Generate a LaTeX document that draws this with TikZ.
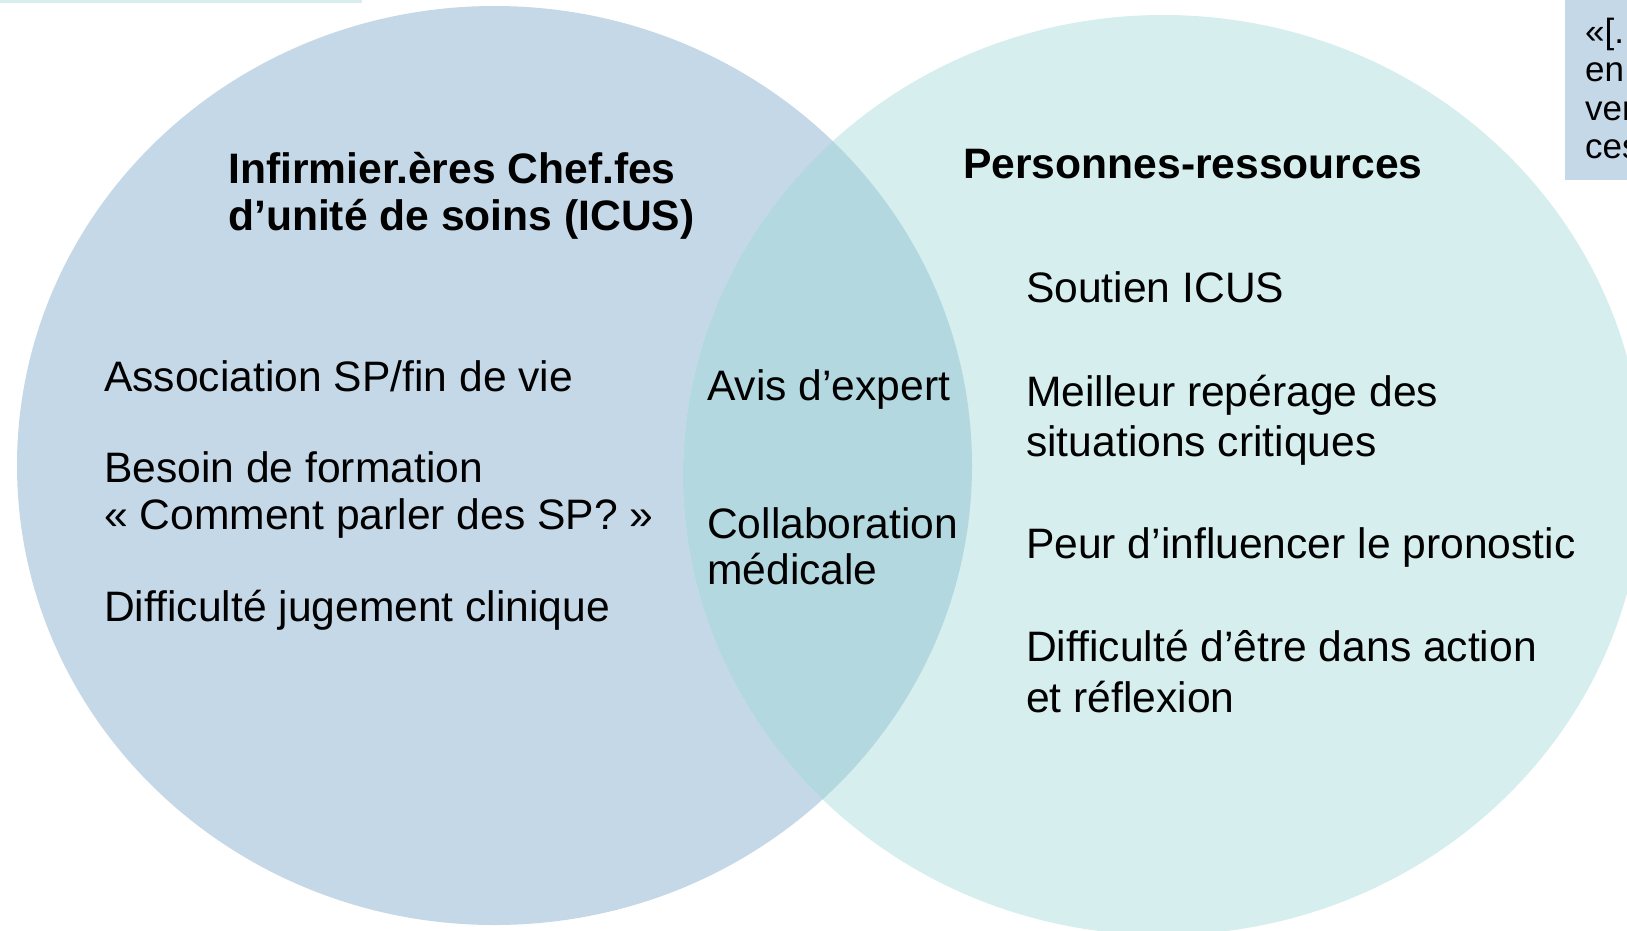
\documentclass[tikz,border=0pt]{standalone}
\usepackage{fontspec}
\setmainfont{Liberation Sans}
\definecolor{leftc}{RGB}{197,216,231}
\definecolor{rightc}{RGB}{214,238,238}
\definecolor{midc}{RGB}{179,216,224}
\begin{document}
\begin{tikzpicture}[x=1pt,y=-1pt,
  txt/.style={anchor=base west,inner sep=0pt,font=\fontsize{42.6}{48}\selectfont},
  ttl/.style={anchor=base west,inner sep=0pt,font=\fontsize{42.6}{48}\selectfont\bfseries},
  boxt/.style={anchor=base west,inner sep=0pt,font=\fontsize{35}{40}\selectfont}]
\useasboundingbox (0,0) rectangle (1627,930);
\begin{scope}
\clip (0,0) rectangle (1627,930);
\fill[rightc] (0,0) rectangle (362,3);
\fill[leftc] (494.5,465.5) ellipse [x radius=477.5, y radius=459.5];
\fill[rightc] (1163,475) ellipse [x radius=480, y radius=460];
\begin{scope}
\clip (494.5,465.5) ellipse [x radius=477.5, y radius=459.5];
\fill[midc] (1163,475) ellipse [x radius=480, y radius=460];
\end{scope}
\fill[leftc] (1565,0) rectangle (1640,180);
\node[boxt] (q1) at (1585,43) {«[..};
\node[boxt] (q2) at (1585,81) {en};
\node[boxt] (q3) at (1585,120) {ver};
\node[boxt] (q4) at (1585,158) {ces};
\end{scope}
\node[ttl] (t1a) at (228,183) {Infirmier.ères Chef.fes};
\node[ttl] (t1b) at (228,230) {d’unité de soins (ICUS)};
\node[ttl] (t2) at (963,178) {Personnes-ressources};
\node[txt] (l1) at (104,391) {Association SP/fin de vie};
\node[txt] (l2a) at (104,482) {Besoin de formation};
\node[txt] (l2b) at (104,529) {« Comment parler des SP? »};
\node[txt] (l3) at (104,621) {Difficulté jugement clinique};
\node[txt] (m1) at (707,400) {Avis d’expert};
\node[txt] (m2a) at (707,538) {Collaboration};
\node[txt] (m2b) at (707,584) {médicale};
\node[txt] (r1) at (1026,302) {Soutien ICUS};
\node[txt] (r2a) at (1026,406) {Meilleur repérage des};
\node[txt] (r2b) at (1026,456) {situations critiques};
\node[txt] (r3) at (1026,558) {Peur d’influencer le pronostic};
\node[txt] (r4a) at (1026,661) {Difficulté d’être dans action};
\node[txt] (r4b) at (1026,712) {et réflexion};
\end{tikzpicture}
\end{document}
